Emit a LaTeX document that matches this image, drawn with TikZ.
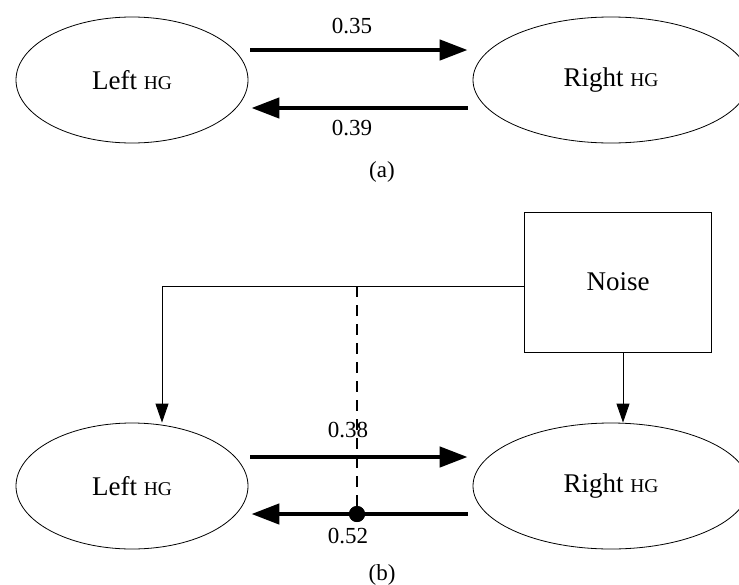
\documentclass[tikz,border=0pt]{standalone}
\usepackage{fontspec}
\setmainfont{Liberation Serif}
\usetikzlibrary{shapes.geometric,arrows.meta}

\newcommand{\hgname}{{\fontsize{19.5}{21}\selectfont HG}}

\begin{document}
\begin{tikzpicture}[x=1pt,y=-1pt]
\useasboundingbox (0,0) rectangle (739,584);

\tikzset{HGStyle/.style = {
 shape = ellipse,
 draw = black,
 line width = 0.8pt,
 inner sep = 0pt,
 minimum height = 126pt,
 font = \fontsize{27}{30}\selectfont} }
\tikzset{NoiseStyle/.style = {
 shape = rectangle,
 draw = black,
 line width = 0.8pt,
 minimum width = 187pt,
 minimum height = 140pt,
 font = \fontsize{27}{30}\selectfont} }
\tikzset{LabelStyle/.style = {inner sep = 0pt, font = \fontsize{23}{26}\selectfont} }

% (a)
\node[HGStyle, minimum width=232pt] (LeftA) at (132,80) {Left \hgname};
\node[HGStyle, minimum width=276pt] (RightA) at (611,80) {Right \hgname};

% (b)
\node[HGStyle, minimum width=232pt] (LeftB) at (132,486) {Left \hgname};
\node[HGStyle, minimum width=276pt] (RightB) at (611,486) {Right \hgname};
\node[NoiseStyle] (Noise) at (618,282) {Noise};
\coordinate (Bend) at (162,286);
\coordinate (Split) at (357,286);
\node[shape=circle, fill=black, inner sep=0pt, minimum size=16pt] (Tap) at (357,514) {};


\tikzset{FlowStyle/.style = {line width=4.5pt, -{Triangle[length=28pt,width=20pt]}} }
\tikzset{FeedStyle/.style = {line width=0.9pt, -{Triangle[length=19pt,width=13pt]}} }

\draw[FlowStyle] ([xshift=2pt,yshift=30pt]LeftA.east) -- ([xshift=-5pt,yshift=30pt]RightA.west);
\draw[FlowStyle] ([xshift=-5pt,yshift=-28pt]RightA.west) -- ([xshift=3pt,yshift=-28pt]LeftA.east);

\draw[FlowStyle] ([xshift=2pt,yshift=29pt]LeftB.east) -- ([xshift=-5pt,yshift=29pt]RightB.west);
\draw[FlowStyle] ([xshift=-5pt,yshift=-28pt]RightB.west) -- ([xshift=3pt,yshift=-28pt]LeftB.east);

\draw[FeedStyle] (Noise.west |- Bend) -- (Bend) -- (Bend |- LeftB.north);
\draw[FeedStyle] ([xshift=5pt]Noise.south) -- ([xshift=5pt]Noise.south |- RightB.north);
\draw[line width=2pt, dash pattern=on 11pt off 8pt] (Split) -- (Tap.center);
\node[shape=circle, fill=black, inner sep=0pt, minimum size=16pt] at (Tap) {};

\node[LabelStyle] (W35) at (352,26) {0.35};
\node[LabelStyle] (W39) at (352,128) {0.39};
\node[LabelStyle] (CapA) at (382,172) {(a)};
\node[LabelStyle] (W38) at (348,430) {0.38};
\node[LabelStyle] (W52) at (348,536) {0.52};
\node[LabelStyle] (CapB) at (382,575) {(b)};

\end{tikzpicture}
\end{document}
